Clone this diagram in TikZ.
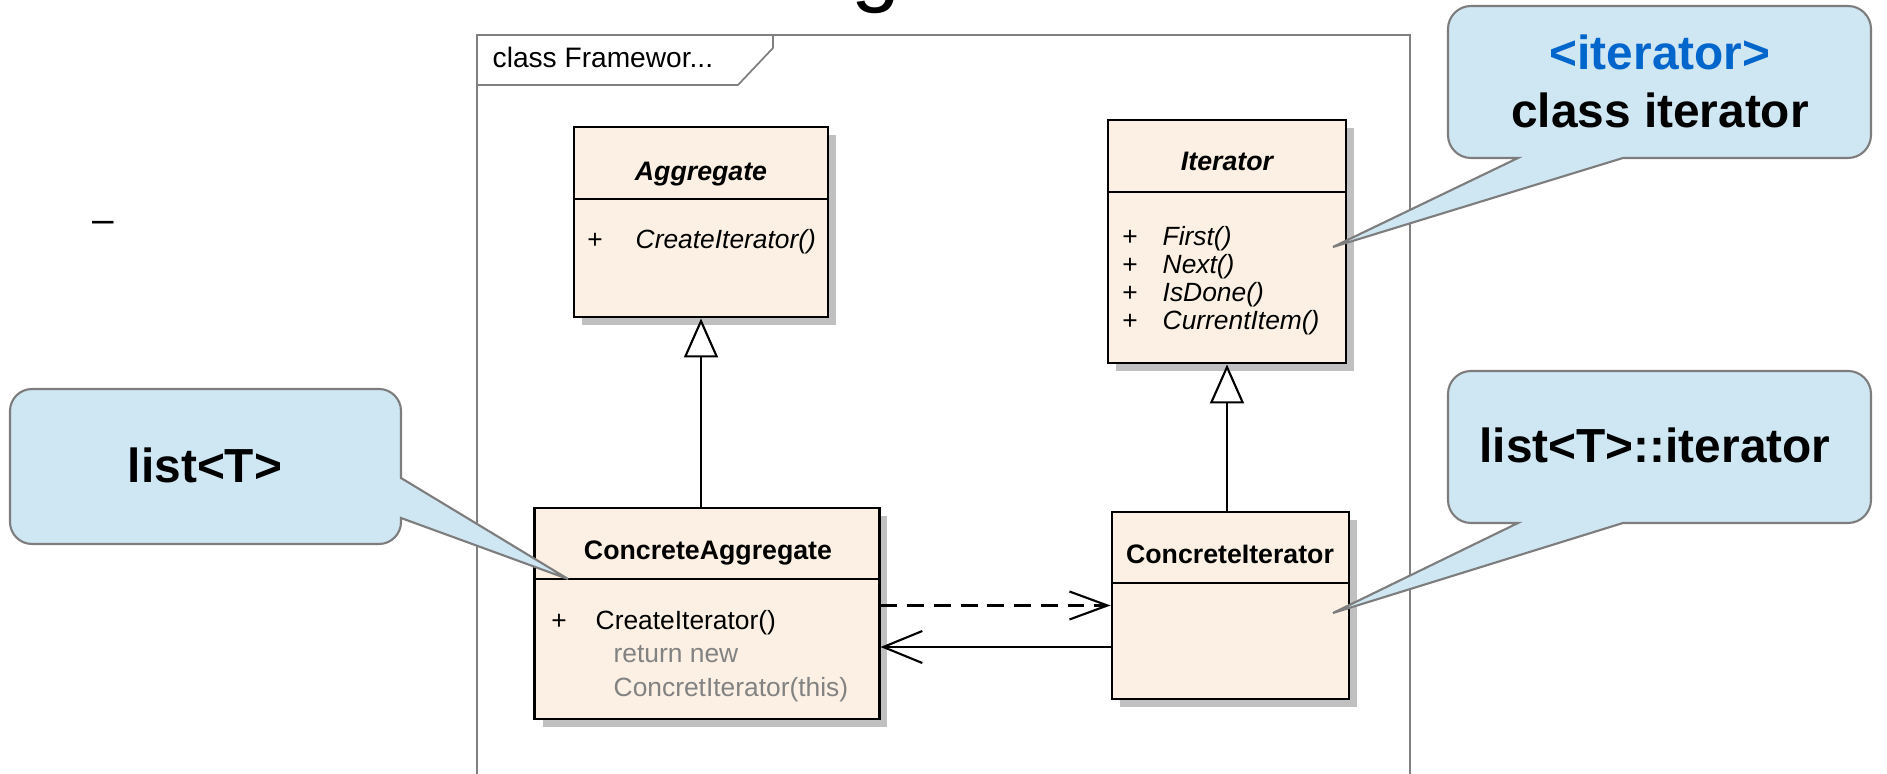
\documentclass[tikz,border=0pt]{standalone}
\usepackage{fontspec}
\setmainfont{Liberation Sans}
\usepackage{xcolor}
\usepackage{tikz}
\usetikzlibrary{arrows.meta, shadows}
\definecolor{classfill}{RGB}{251, 240, 227}
\definecolor{classshadow}{RGB}{192, 192, 192}
\definecolor{noteblue}{RGB}{207, 230, 243}
\definecolor{noteedge}{RGB}{125, 125, 125}
\definecolor{framegray}{RGB}{128, 128, 128}
\definecolor{tagblue}{RGB}{0, 102, 204}
\definecolor{codegray}{RGB}{130, 130, 130}

\begin{document}
\begin{tikzpicture}[x=0.01cm, y=-0.01cm,
		classbox/.style={draw=black, line width=0.8pt, fill=classfill, inner sep=0pt,
			drop shadow={shadow xshift=0.08cm, shadow yshift=-0.08cm, fill=classshadow, opacity=1}},
		classline/.style={draw=black, line width=0.8pt},
		umltitle/.style={font=\fontsize{7.6}{9}\selectfont\bfseries, anchor=base, inner sep=0pt},
		umlabstract/.style={font=\fontsize{7.6}{9}\selectfont\bfseries\itshape, anchor=base, inner sep=0pt},
		umlop/.style={font=\fontsize{7.5}{9}\selectfont, anchor=base west, inner sep=0pt},
		umlopit/.style={font=\fontsize{7.5}{9}\selectfont\itshape, anchor=base west, inner sep=0pt},
		umlplus/.style={font=\fontsize{7.5}{9}\selectfont, anchor=base, inner sep=0pt},
		conn/.style={line width=0.6pt},
		notebox/.style={draw=noteedge, line width=0.6pt, fill=noteblue},
		notetext/.style={font=\fontsize{13.6}{16}\selectfont\bfseries, anchor=base, inner sep=0pt}]
		\useasboundingbox (0,0) rectangle (1887,774);
		\clip (0,0) rectangle (1887,774);
		
		% --- slide leftovers ---
		\node[anchor=base, inner sep=0pt, font=\fontsize{25}{30}\selectfont] (titleg) at (876,-4) {g};
		\node[anchor=base, inner sep=0pt, font=\fontsize{11}{13}\selectfont] (bulletdash) at (103,233) {–};
		
		% --- frame ---
		\draw[framegray, line width=0.5pt] (477,800) -- (477,35) -- (1410,35) -- (1410,800);
		\draw[framegray, line width=0.5pt] (477,85) -- (738,85) -- (773,48) -- (773,35);
		\node[anchor=base west, inner sep=0pt, font=\fontsize{8}{10}\selectfont] (frametitle) at (492,68) {class Framewor...};
		
		% --- class boxes ---
		\node[classbox, minimum width=2.54cm, minimum height=1.90cm] (agg) at (701,222) {};
		\node[classbox, minimum width=2.38cm, minimum height=2.43cm] (itr) at (1227,241.5) {};
		\node[classbox, minimum width=3.44cm, minimum height=2.11cm] (cagg) at (707,613.5) {};
		\node[classbox, minimum width=2.37cm, minimum height=1.87cm] (citr) at (1230.5,605.5) {};
		
		% header lines
		\draw[classline] (agg.west |- 0,199) -- (agg.east |- 0,199);
		\draw[classline] (itr.west |- 0,192) -- (itr.east |- 0,192);
		\draw[classline] (cagg.west |- 0,579) -- (cagg.east |- 0,579);
		\draw[classline] (citr.west |- 0,583) -- (citr.east |- 0,583);
		
		% --- class texts ---
		\node[umlabstract] (aggname) at (701,181) {Aggregate};
		\node[umlplus] (aggplus) at (595,249) {+};
		\node[umlopit] (aggop) at (635,249) {CreateIterator()};
		
		\node[umlabstract] (itrname) at (1227,171) {Iterator};
		\node[umlplus] (itrplusa) at (1130,246) {+};
		\node[umlopit] (itropa) at (1162,246) {First()};
		\node[umlplus] (itrplusb) at (1130,274) {+};
		\node[umlopit] (itropb) at (1162,274) {Next()};
		\node[umlplus] (itrplusc) at (1130,302) {+};
		\node[umlopit] (itropc) at (1162,302) {IsDone()};
		\node[umlplus] (itrplusd) at (1130,330) {+};
		\node[umlopit] (itropd) at (1162,330) {CurrentItem()};
		
		\node[umltitle] (caggname) at (708,560) {ConcreteAggregate};
		\node[umlplus] (caggplus) at (559,630) {+};
		\node[umlop] (caggop) at (595,630) {CreateIterator()};
		\node[umlop, text=codegray] (caggcodea) at (613,663) {return new};
		\node[umlop, text=codegray] (caggcodeb) at (613,697) {ConcretIterator(this)};
		
		\node[umltitle] (citrname) at (1230,564) {ConcreteIterator};
		
		% --- relations ---
		\draw[conn, -{Triangle[length=0.39cm, width=0.34cm, fill=white]}] (agg.south |- cagg.north) -- (agg.south);
		\draw[conn, -{Triangle[length=0.39cm, width=0.34cm, fill=white]}] (itr.south |- citr.north) -- (itr.south);
		\draw[conn, dash pattern=on 4.8pt off 2.8pt, -{Straight Barb[length=0.38cm, width=0.28cm]}] (cagg.east |- citr.west) -- (citr.west);
		\coordinate (backpt) at ([yshift=-0.415cm]citr.west);
		\draw[conn, -{Straight Barb[length=0.39cm, width=0.32cm]}] (backpt) -- (backpt -| cagg.east);
		
		% --- notes ---
		\draw[notebox] (1333,247) -- (1623,158) [rounded corners=0.23cm] -- (1871,158) -- (1871,6) -- (1448,6) -- (1448,158) [sharp corners] -- (1518,158) -- cycle;
		\node[notetext, text=tagblue] (tagname) at (1660,70) {<iterator>};
		\node[notetext] (tagclass) at (1660,128) {class iterator};
		
		\draw[notebox] (568,579) -- (401,518) [rounded corners=0.22cm] -- (401,544) -- (10,544) -- (10,389) -- (401,389) [sharp corners] -- (401,478) -- cycle;
		\node[notetext] (listnote) at (205,483) {list<T>};
		
		\draw[notebox] (1333,613) -- (1623,523) [rounded corners=0.23cm] -- (1871,523) -- (1871,371) -- (1448,371) -- (1448,523) [sharp corners] -- (1518,523) -- cycle;
		\node[notetext] (listitnote) at (1655,463) {list<T>::iterator};
		
	\end{tikzpicture}
\end{document}
